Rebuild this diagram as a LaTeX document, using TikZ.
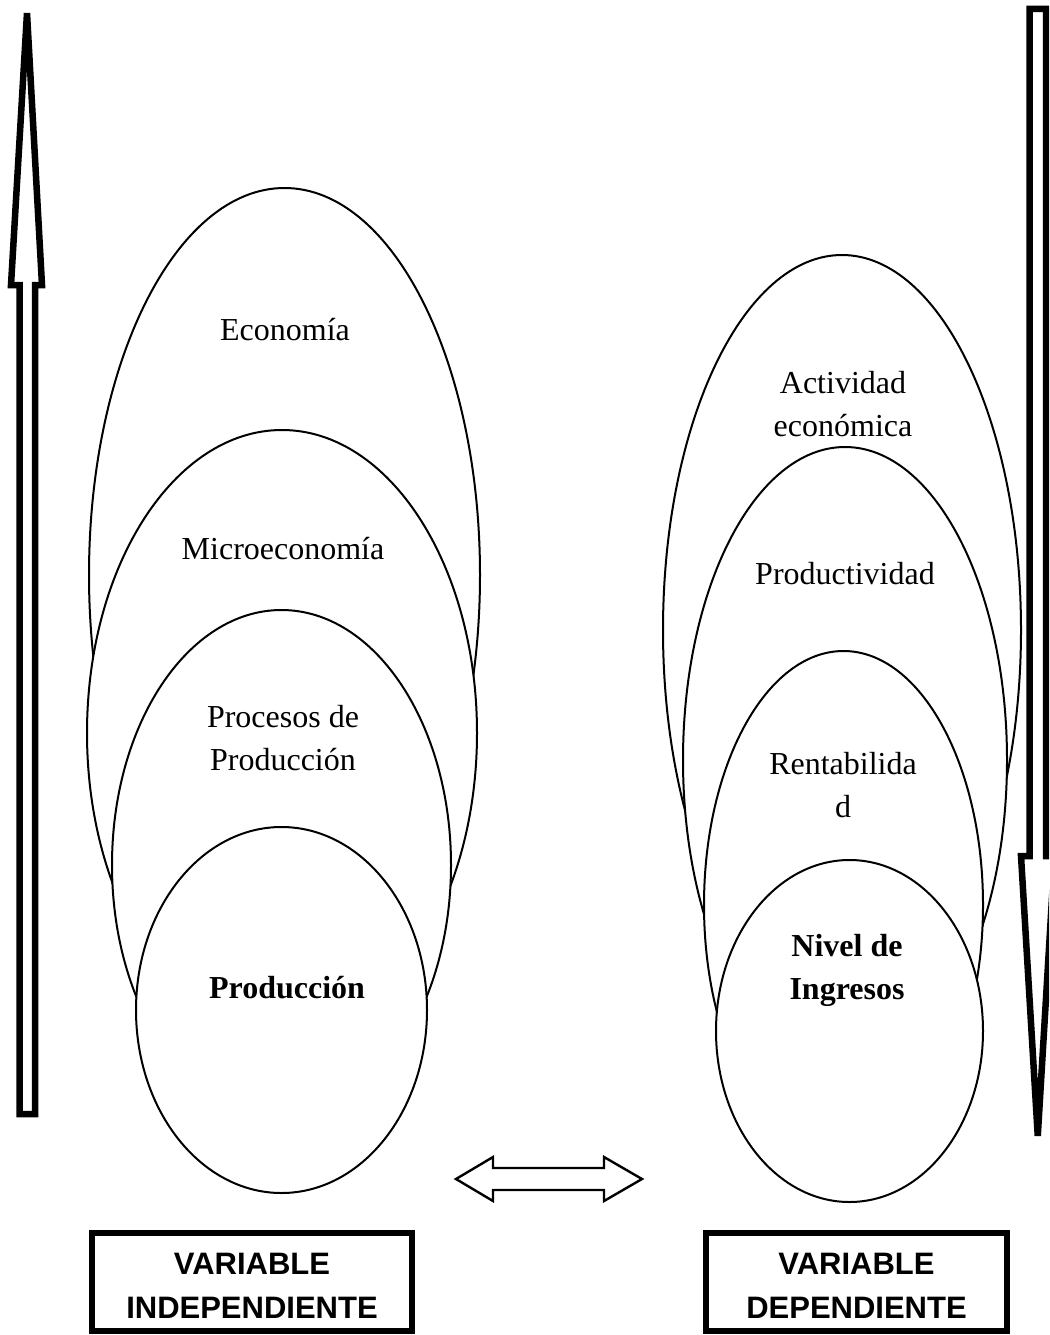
\documentclass[tikz,border=0pt]{standalone}
\usepackage{fontspec}
\setmainfont{Liberation Serif}
\newfontfamily\arialfont{Liberation Sans}
\usetikzlibrary{shapes.geometric}
\begin{document}
\begin{tikzpicture}[x=1pt,y=-1pt,
  oval/.style={ellipse,draw,fill=white,line width=2pt,inner sep=0pt},
  lbl/.style={font=\fontsize{32}{43}\selectfont,align=center,inner sep=0pt},
  varbox/.style={draw,line width=6.5pt,inner sep=0pt,rectangle},
  vartext/.style={font=\arialfont\bfseries\fontsize{31}{44}\selectfont,align=center,inner sep=0pt},
  fatarrow/.style={draw,line width=6.5pt,line join=miter,miter limit=10,fill=white},
  thinarrow/.style={draw,line width=2.4pt,line join=miter,fill=white}
]
\useasboundingbox (0,0) rectangle (1049,1335);
\clip (0,0) rectangle (1049,1335);

% left vertical arrow (up)
\draw[fatarrow] (27,13) -- (42,285) -- (35,285) -- (35,1114) -- (19.5,1114) -- (19.5,285) -- (11,285) -- cycle;

% right vertical arrow (down)
\draw[fatarrow] (1029.5,9) -- (1046,9) -- (1046,856) -- (1054.5,856) -- (1037.75,1136) -- (1021,856) -- (1029.5,856) -- cycle;

% left ellipses
\node[oval,minimum width=391,minimum height=774] (eco) at (284.5,575) {};
\node[lbl] (tEco) at (285,330) {Economía};
\node[oval,minimum width=390,minimum height=606] (micro) at (282,733) {};
\node[lbl] (tMicro) at (283,549) {Microeconomía};
\node[oval,minimum width=339,minimum height=510] (proc) at (281.5,865) {};
\node[lbl] (tProc) at (283,738.5) {Procesos de\\Producción};
\node[oval,minimum width=291,minimum height=366] (prod) at (281.5,1010) {};
\node[lbl,font=\bfseries\fontsize{32}{43}\selectfont] (tProd) at (287,988) {Producción};

% right ellipses
\node[oval,minimum width=358,minimum height=750] (act) at (842,630) {};
\node[lbl] (tAct) at (843,404.5) {Actividad\\económica};
\node[oval,minimum width=324,minimum height=626] (pvd) at (845,760) {};
\node[lbl] (tPvd) at (845,574) {Productividad};
\node[oval,minimum width=279,minimum height=508] (rent) at (843.5,905) {};
\node[lbl] (tRent) at (843,785.5) {Rentabilida\\d};
\node[oval,minimum width=267,minimum height=342] (niv) at (849.5,1031) {};
\node[lbl,font=\bfseries\fontsize{32}{43}\selectfont] (tNiv) at (847,970) {Nivel de\\Ingresos};

% double arrow
\draw[thinarrow] (456,1179) -- (493,1157) -- (493,1168) -- (604,1168) -- (604,1157) -- (642,1179) -- (604,1201) -- (604,1190) -- (493,1190) -- (493,1201) -- cycle;

% variable boxes
\node[varbox,minimum width=320,minimum height=98] (bInd) at (252,1282) {};
\node[vartext] (tInd) at (252,1286) {VARIABLE\\INDEPENDIENTE};
\node[varbox,minimum width=301,minimum height=98] (bDep) at (856.5,1282) {};
\node[vartext] (tDep) at (856.5,1286) {VARIABLE\\DEPENDIENTE};
\end{tikzpicture}
\end{document}
